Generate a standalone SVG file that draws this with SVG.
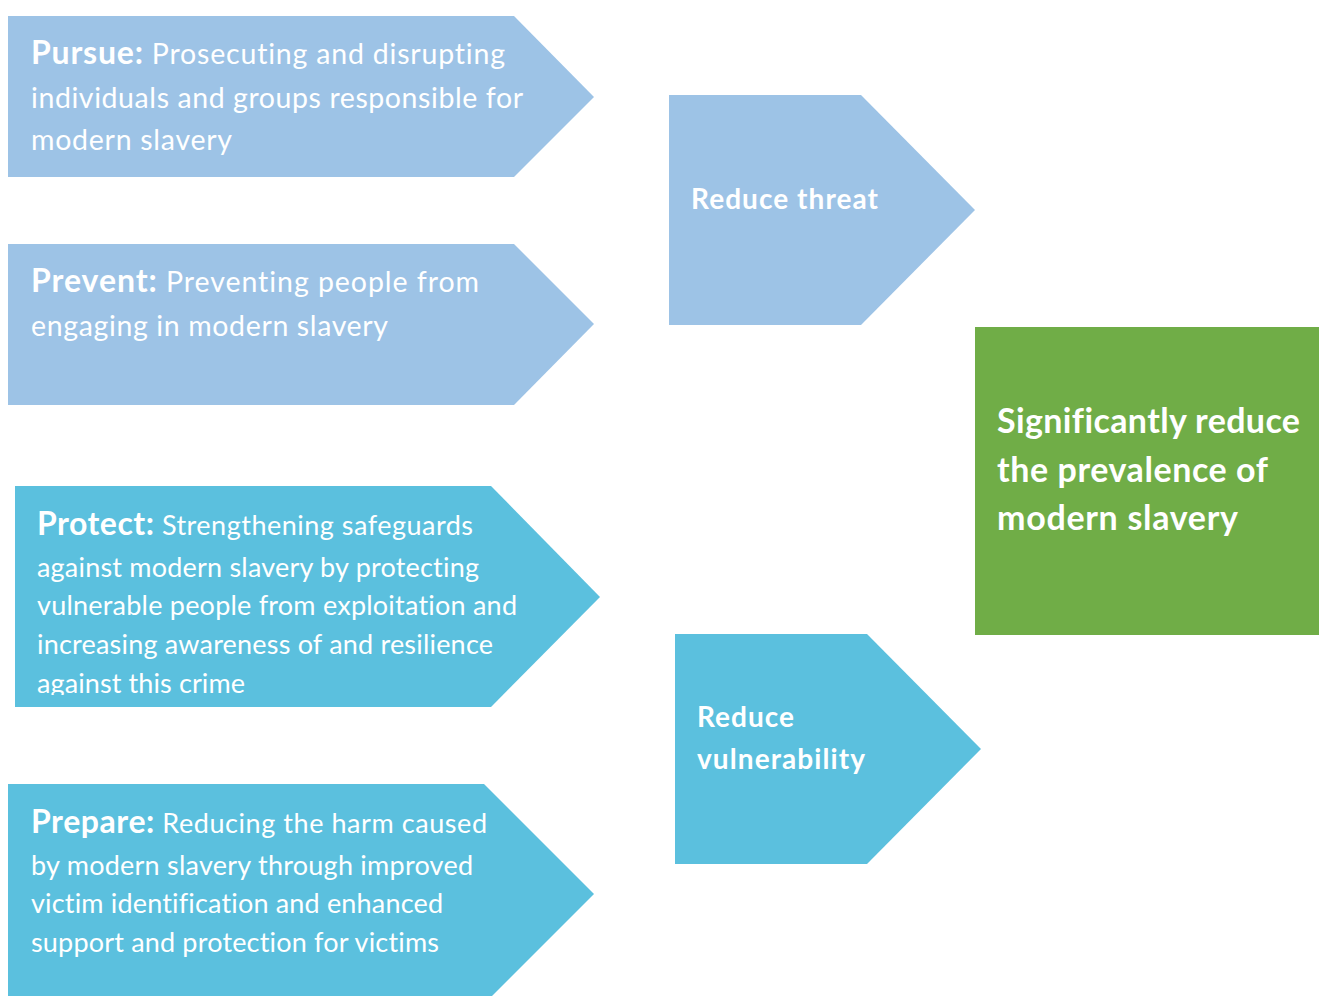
<svg xmlns="http://www.w3.org/2000/svg" width="1319" height="996" viewBox="0 0 1319 996">
<style>
.lb{fill:#9DC3E6}
.cy{fill:#5BC0DE}
.gr{fill:#70AD47}
text{font-family:Lato,"Open Sans","Liberation Sans",sans-serif;fill:#fff;font-variant-ligatures:none}
.t{font-size:27px}
.t2{font-size:28.5px}
.h{font-size:32px;font-weight:bold}
.b{font-size:28px;font-weight:bold}
.g{font-size:34px;font-weight:bold}
</style>
<defs>
<clipPath id="cp"><rect x="0" y="480" width="620" height="215"/></clipPath>
</defs>
<rect width="1319" height="996" fill="#fff"/>
<g id="pursue">
<polygon class="lb" points="8,16 514,16 594,97 514,177 8,177"/>
<text class="t2" x="31" y="64" textLength="474" lengthAdjust="spacing"><tspan class="h">Pursue:</tspan> Prosecuting and disrupting</text>
<text class="t2" x="31" y="108" textLength="492" lengthAdjust="spacing">individuals and groups responsible for</text>
<text class="t2" x="31" y="150" textLength="201" lengthAdjust="spacing">modern slavery</text>
</g>
<g id="prevent">
<polygon class="lb" points="8,244 514,244 594,324 514,405 8,405"/>
<text class="t2" x="31" y="292" textLength="448" lengthAdjust="spacing"><tspan class="h">Prevent:</tspan> Preventing people from</text>
<text class="t2" x="31" y="336" textLength="357" lengthAdjust="spacing">engaging in modern slavery</text>
</g>
<g id="protect">
<polygon class="cy" points="15,486 491,486 600,597 491,707 15,707"/>
<g clip-path="url(#cp)">
<text class="t" x="37" y="535" textLength="436" lengthAdjust="spacing"><tspan class="h">Protect:</tspan> Strengthening safeguards</text>
<text class="t" x="37" y="577" textLength="442" lengthAdjust="spacing">against modern slavery by protecting</text>
<text class="t" x="37" y="615" textLength="480" lengthAdjust="spacing">vulnerable people from exploitation and</text>
<text class="t" x="37" y="654" textLength="456" lengthAdjust="spacing">increasing awareness of and resilience</text>
<text class="t" x="37" y="693" textLength="208" lengthAdjust="spacing">against this crime</text>
</g>
</g>
<g id="prepare">
<polygon class="cy" points="8,784 484,784 594,894 484,1004 8,1004"/>
<text class="t" x="31" y="833" textLength="456" lengthAdjust="spacing"><tspan class="h">Prepare:</tspan> Reducing the harm caused</text>
<text class="t" x="31" y="875" textLength="442" lengthAdjust="spacing">by modern slavery through improved</text>
<text class="t" x="31" y="913" textLength="412" lengthAdjust="spacing">victim identification and enhanced</text>
<text class="t" x="31" y="952" textLength="408" lengthAdjust="spacing">support and protection for victims</text>
</g>
<g id="reduce-threat">
<polygon class="lb" points="669,95 861,95 975,210 861,325 669,325"/>
<text class="b" x="691" y="209" textLength="187" lengthAdjust="spacing">Reduce threat</text>
</g>
<g id="reduce-vulnerability">
<polygon class="cy" points="675,634 867,634 981,749 867,864 675,864"/>
<text class="b" x="697" y="727" textLength="97" lengthAdjust="spacing">Reduce</text>
<text class="b" x="697" y="769" textLength="168" lengthAdjust="spacing">vulnerability</text>
</g>
<g id="goal">
<rect class="gr" x="975" y="327" width="344" height="308"/>
<text class="g" x="997" y="433" textLength="303" lengthAdjust="spacing">Significantly reduce</text>
<text class="g" x="997" y="482" textLength="271" lengthAdjust="spacing">the prevalence of</text>
<text class="g" x="997" y="530" textLength="241" lengthAdjust="spacing">modern slavery</text>
</g>
<g id="connectors"></g>
</svg>
